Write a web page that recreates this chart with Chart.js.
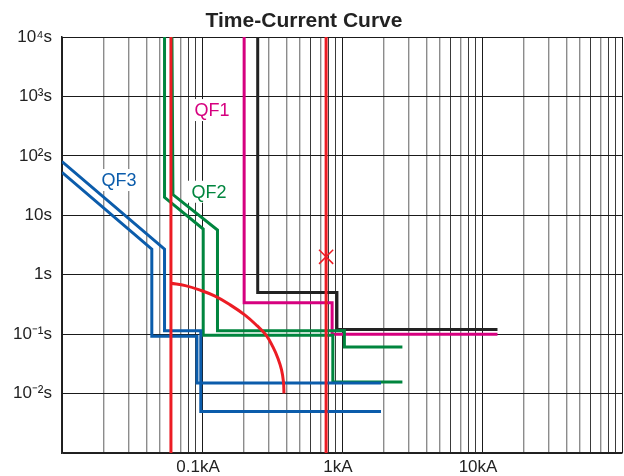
<!DOCTYPE html>
<html>
<head>
<meta charset="utf-8">
<script src="https://cdn.jsdelivr.net/npm/chart.js@4.4.1/dist/chart.umd.min.js"></script>
<style>
  html, body { margin: 0; padding: 0; background: #fff; }
  #wrap { width: 624px; height: 476px; }
</style>
</head>
<body>
<div id="wrap"><canvas id="tcc" width="624" height="476"></canvas></div>
<script>
const chartTitle = 'Time-Current Curve';

// axis labels
const xLabelValues = [0.1, 1, 10];
const xLabelTexts = ['0.1kA', '1kA', '10kA'];
const yTickValues = [10000, 1000, 100, 10, 1, 0.1, 0.01];
const yTickTexts = ['10⁴s', '10³s', '10²s', '10s', '1s', '10⁻¹s', '10⁻²s'];

// curves: current in kA, time in s
const qf1Current = [0.2, 0.2, 0.85, 0.85, 12.9];
const qf1Time = [10000, 0.337, 0.337, 0.1, 0.1];

const upstreamCurrent = [0.25, 0.25, 0.92, 0.92, 12.9];
const upstreamTime = [10000, 0.5, 0.5, 0.12, 0.12];

const qf2LowCurrent = [0.054, 0.054, 0.102, 0.102, 0.86, 0.86, 2.7];
const qf2LowTime = [10000, 20, 5.86, 0.096, 0.096, 0.0157, 0.0157];
const qf2HighCurrent = [0.061, 0.062, 0.129, 0.129, 1.04, 1.04, 2.7];
const qf2HighTime = [10000, 22.3, 5.64, 0.114, 0.114, 0.061, 0.061];

const qf3HighCurrent = [0.01, 0.054, 0.054, 0.098, 0.098, 1.9];
const qf3HighTime = [80, 2.7, 0.114, 0.114, 0.005, 0.005];
const qf3LowCurrent = [0.01, 0.0438, 0.0438, 0.092, 0.092, 1.9];
const qf3LowTime = [52.7, 2.7, 0.0925, 0.0925, 0.0151, 0.0151];

const fuseLeftCurrent = [0.06, 0.06];
const fuseLeftTime = [10000, 0.001];
const fuseRightCurrent = [0.77, 0.77];
const fuseRightTime = [10000, 0.001];

const arcCurrent = [0.06, 0.076, 0.097, 0.124, 0.158, 0.203, 0.247, 0.287, 0.321, 0.349, 0.37, 0.382, 0.385];
const arcTime = [0.72, 0.655, 0.55, 0.436, 0.314, 0.209, 0.139, 0.096, 0.061, 0.039, 0.025, 0.0156, 0.0101];

const markCurrent = [0.77];
const markTime = [2.0];

// curve names placed on the chart
const qfNames = ['QF1', 'QF2', 'QF3'];
const qfNameCurrent = [0.118, 0.112, 0.0255];
const qfNameTime = [590, 24.9, 39.2];
const qfNameColors = ['#d6007f', '#00853e', '#0b5cab'];

const RED = '#ec1c24', BLUE = '#0b5cab', GREEN = '#00853e', MAGENTA = '#d6007f', BLACK = '#222222';
const FONT = '"Liberation Sans", Arial, Helvetica, sans-serif';

function pts(xs, ys) {
  return xs.map((x, i) => ({ x: x, y: ys[i] }));
}

function line(xs, ys, color, order, extra) {
  return Object.assign({
    data: pts(xs, ys),
    borderColor: color,
    backgroundColor: color,
    borderWidth: 3,
    pointRadius: 0,
    showLine: true,
    fill: false,
    tension: 0,
    order: order
  }, extra || {});
}

// log grid: every 1..9 step of each decade
const xGridValues = [];
[0.01, 0.1, 1, 10].forEach(d => {
  for (let s = 1; s <= 9; s++) xGridValues.push(d * s);
});
xGridValues.push(100);
const yGridValues = [0.001, 0.01, 0.1, 1, 10, 100, 1000, 10000];

function significand(v) {
  const p = Math.floor(Math.log10(v) + 1e-9);
  return Math.round(v / Math.pow(10, p));
}
function findLabel(v, values, texts) {
  for (let i = 0; i < values.length; i++) {
    if (Math.abs(Math.log10(v) - Math.log10(values[i])) < 1e-6) return texts[i];
  }
  return '';
}

const titlePlugin = {
  id: 'tccTitle',
  afterDraw(chart) {
    const ctx = chart.ctx;
    ctx.save();
    ctx.font = 'bold 21px ' + FONT;
    ctx.fillStyle = BLACK;
    ctx.textAlign = 'center';
    ctx.textBaseline = 'middle';
    ctx.fillText(chartTitle, chart.width / 2 - 8, 21);
    ctx.restore();
  }
};

const namesPlugin = {
  id: 'qfNames',
  beforeDatasetsDraw(chart) {
    const ctx = chart.ctx;
    const xs = chart.scales.x, ys = chart.scales.y;
    ctx.save();
    ctx.font = '18px ' + FONT;
    ctx.textAlign = 'center';
    ctx.textBaseline = 'middle';
    qfNames.forEach((name, i) => {
      const px = xs.getPixelForValue(qfNameCurrent[i]);
      const py = ys.getPixelForValue(qfNameTime[i]);
      const w = ctx.measureText(name).width;
      ctx.fillStyle = '#fff';
      ctx.fillRect(px - w / 2 - 4, py - 11, w + 8, 22);
      ctx.fillStyle = qfNameColors[i];
      ctx.fillText(name, px, py + 1);
    });
    ctx.restore();
  }
};

new Chart(document.getElementById('tcc'), {
  type: 'scatter',
  data: {
    datasets: [
      line(fuseLeftCurrent, fuseLeftTime, RED, 0),
      line(fuseRightCurrent, fuseRightTime, RED, 0),
      line(arcCurrent, arcTime, RED, 0, { tension: 0.4 }),
      {
        data: pts(markCurrent, markTime),
        pointStyle: 'crossRot',
        pointRadius: 10,
        borderWidth: 1.5,
        borderColor: RED,
        showLine: false,
        order: 0
      },
      line(qf3HighCurrent, qf3HighTime, BLUE, 1),
      line(qf3LowCurrent, qf3LowTime, BLUE, 1),
      line(qf2LowCurrent, qf2LowTime, GREEN, 2),
      line(qf2HighCurrent, qf2HighTime, GREEN, 2),
      line(qf1Current, qf1Time, MAGENTA, 3),
      line(upstreamCurrent, upstreamTime, BLACK, 4)
    ]
  },
  options: {
    responsive: false,
    animation: false,
    events: [],
    layout: { autoPadding: false, padding: { top: 37, right: 2, left: 0, bottom: 0 } },
    plugins: {
      legend: { display: false },
      title: { display: false },
      tooltip: { enabled: false }
    },
    scales: {
      x: {
        type: 'logarithmic',
        min: 0.01,
        max: 100,
        afterBuildTicks: (s) => { s.ticks = xGridValues.map(v => ({ value: v })); },
        afterFit: (s) => { s.height = 23; s.paddingLeft = 0; s.paddingRight = 0; },
        grid: {
          drawTicks: false,
          color: (c) => {
            const s = significand(c.tick.value);
            if (s === 1) return '#1a1a1a';
            return (s === 6 || s === 8 || s === 9) ? '#3a3a3a' : '#8c8c8c';
          },
          lineWidth: (c) => {
            const s = significand(c.tick.value);
            return (s === 1 || s === 6 || s === 8 || s === 9) ? 1 : 1.4;
          }
        },
        border: { color: '#222', width: 1.5 },
        ticks: {
          autoSkip: false,
          maxRotation: 0,
          padding: 4,
          labelOffset: -4,
          color: '#222',
          font: { family: FONT, size: 17 },
          callback: (v) => findLabel(v, xLabelValues, xLabelTexts)
        }
      },
      y: {
        type: 'logarithmic',
        min: 0.001,
        max: 10000,
        afterBuildTicks: (s) => { s.ticks = yGridValues.map(v => ({ value: v })); },
        afterFit: (s) => { s.width = 62; s.paddingTop = 0; s.paddingBottom = 0; },
        grid: { drawTicks: false, color: '#1a1a1a', lineWidth: 1 },
        border: { color: '#222', width: 1.5 },
        ticks: {
          autoSkip: false,
          padding: 10,
          color: '#222',
          font: { family: FONT, size: 17 },
          callback: (v) => findLabel(v, yTickValues, yTickTexts)
        }
      }
    }
  },
  plugins: [titlePlugin, namesPlugin]
});
</script>
</body>
</html>
